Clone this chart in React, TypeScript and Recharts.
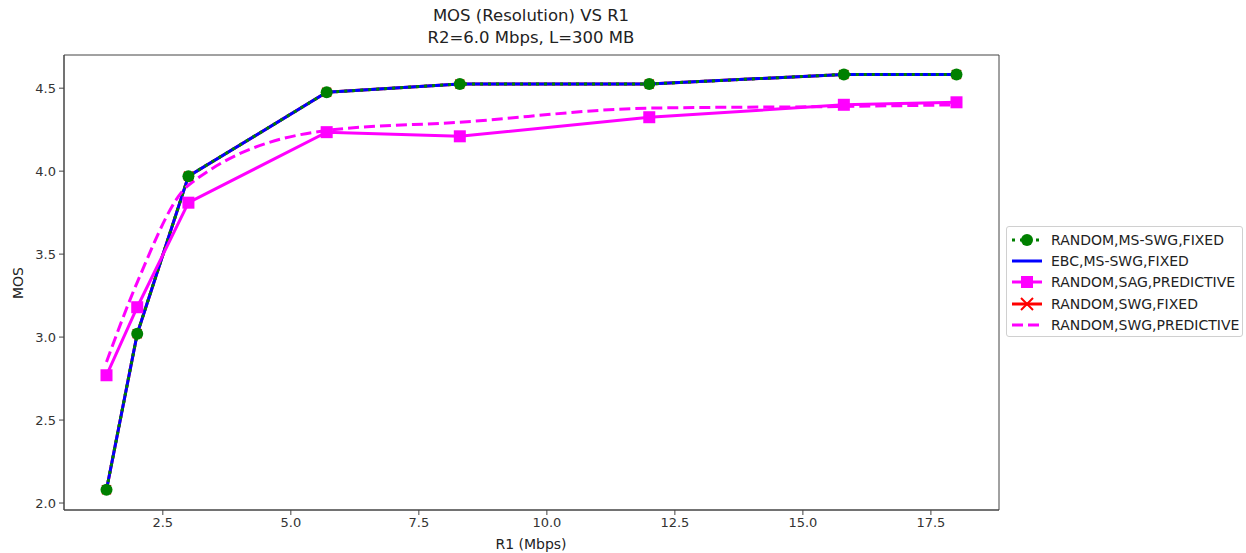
import { LineChart, XAxis, YAxis, Line, ReferenceArea } from 'recharts';

// R1 (Mbps) sample points
const r1 = [1.4, 2.0, 3.0, 5.7, 8.3, 12.0, 15.8, 18.0];

const randomMsSwgFixed = [2.08, 3.02, 3.97, 4.475, 4.525, 4.525, 4.583, 4.583];
const ebcMsSwgFixed = [2.08, 3.02, 3.97, 4.475, 4.525, 4.525, 4.583, 4.583];
const randomSagPredictive = [2.77, 3.18, 3.81, 4.235, 4.21, 4.325, 4.4, 4.415];
const randomSwgFixed = [2.08, 3.02, 3.97, 4.475, 4.525, 4.525, 4.583, 4.583];
const randomSwgPredictive = [2.85, 3.33, 3.915, 4.245, 4.295, 4.38, 4.39, 4.4];

const xTicks = [2.5, 5.0, 7.5, 10.0, 12.5, 15.0, 17.5];
const yTicks = [2.0, 2.5, 3.0, 3.5, 4.0, 4.5];

const X_DOMAIN: [number, number] = [0.57, 18.83];
const Y_DOMAIN: [number, number] = [1.958, 4.7];

const data = r1.map((x, i) => ({
  r1: x,
  msSwg: randomMsSwgFixed[i],
  ebc: ebcMsSwgFixed[i],
  sag: randomSagPredictive[i],
  swgFixed: randomSwgFixed[i],
  swgPred: randomSwgPredictive[i],
}));

const FONT = '"DejaVu Sans", sans-serif';

const SquareDot = (props: any) => {
  const { cx, cy } = props;
  if (cx == null || cy == null) return null;
  return <rect x={cx - 6} y={cy - 6} width={12} height={12} fill="#ff00ff" />;
};

const CrossDot = (props: any) => {
  const { cx, cy } = props;
  if (cx == null || cy == null) return null;
  return (
    <g stroke="#ff0000" strokeWidth={1.5}>
      <line x1={cx - 4.5} y1={cy - 4.5} x2={cx + 4.5} y2={cy + 4.5} />
      <line x1={cx - 4.5} y1={cy + 4.5} x2={cx + 4.5} y2={cy - 4.5} />
    </g>
  );
};

const legendItems = [
  { label: 'RANDOM,MS-SWG,FIXED', color: '#008000', dash: '3 5', marker: 'circle' },
  { label: 'EBC,MS-SWG,FIXED', color: '#0000ff', dash: undefined, marker: 'none' },
  { label: 'RANDOM,SAG,PREDICTIVE', color: '#ff00ff', dash: undefined, marker: 'square' },
  { label: 'RANDOM,SWG,FIXED', color: '#ff0000', dash: undefined, marker: 'cross' },
  { label: 'RANDOM,SWG,PREDICTIVE', color: '#ff00ff', dash: '11 5', marker: 'none' },
];

const LegendBox = () => (
  <div
    style={{
      position: 'absolute',
      left: 1006,
      top: 226,
      width: 237,
      height: 111,
      border: '1px solid #d0d0d0',
      borderRadius: 3,
      background: '#fff',
      boxSizing: 'border-box',
      paddingTop: 2,
    }}
  >
    {legendItems.map((it) => (
      <div key={it.label} style={{ display: 'flex', alignItems: 'center', height: 21.3 }}>
        <svg width={40} height={16} style={{ marginLeft: 1 }}>
          <line x1={4} y1={8} x2={34} y2={8} stroke={it.color} strokeWidth={3} strokeDasharray={it.dash} />
          {it.marker === 'circle' && <circle cx={19} cy={8} r={6} fill={it.color} />}
          {it.marker === 'square' && <rect x={13} y={2} width={12} height={12} fill={it.color} />}
          {it.marker === 'cross' && (
            <g stroke={it.color} strokeWidth={2}>
              <line x1={13} y1={2} x2={25} y2={14} />
              <line x1={13} y1={14} x2={25} y2={2} />
            </g>
          )}
        </svg>
        <span style={{ fontSize: 14, color: '#222', marginLeft: 3, whiteSpace: 'nowrap' }}>{it.label}</span>
      </div>
    ))}
  </div>
);

const App = () => {
  const tickStyle = { fontSize: 13, fill: '#333', fontFamily: FONT };
  return (
    <div style={{ position: 'absolute', left: 0, top: 0, width: 1246, height: 553, background: '#fff', fontFamily: FONT }}>
      <div style={{ position: 'absolute', left: 281, width: 500, top: 5, textAlign: 'center', fontSize: 16.5, lineHeight: '22px', color: '#222' }}>
        MOS (Resolution) VS R1
        <br />
        R2=6.0 Mbps, L=300 MB
      </div>
      <div
        style={{
          position: 'absolute',
          left: 18,
          top: 283,
          transform: 'translate(-50%, -50%) rotate(-90deg)',
          fontSize: 14,
          color: '#222',
        }}
      >
        MOS
      </div>
      <div style={{ position: 'absolute', left: 431, width: 200, top: 536, textAlign: 'center', fontSize: 14, color: '#222' }}>
        R1 (Mbps)
      </div>

      <LineChart width={1010} height={553} data={data} margin={{ top: 55, right: 11, left: 0, bottom: 0 }}>
        <XAxis
          dataKey="r1"
          type="number"
          domain={X_DOMAIN}
          ticks={xTicks}
          tickFormatter={(v: number) => v.toFixed(1)}
          allowDataOverflow
          height={43}
          tickSize={5}
          tickMargin={3}
          tick={tickStyle}
          stroke="#444"
        />
        <YAxis
          type="number"
          domain={Y_DOMAIN}
          ticks={yTicks}
          tickFormatter={(v: number) => v.toFixed(1)}
          allowDataOverflow
          width={64}
          tickSize={5}
          tickMargin={3}
          tick={tickStyle}
          stroke="#444"
        />
        <ReferenceArea
          x1={X_DOMAIN[0]}
          x2={X_DOMAIN[1]}
          y1={Y_DOMAIN[0]}
          y2={Y_DOMAIN[1]}
          fill="none"
          fillOpacity={0}
          stroke="#444"
          strokeWidth={1}
        />
        <Line dataKey="swgFixed" stroke="#ff0000" strokeWidth={3} dot={<CrossDot />} isAnimationActive={false} />
        <Line dataKey="ebc" stroke="#0000ff" strokeWidth={3} dot={false} isAnimationActive={false} />
        <Line
          dataKey="msSwg"
          stroke="#008000"
          strokeWidth={3}
          strokeDasharray="3 5"
          dot={{ r: 6, fill: '#008000', stroke: 'none' }}
          isAnimationActive={false}
        />
        <Line dataKey="sag" stroke="#ff00ff" strokeWidth={3} dot={<SquareDot />} isAnimationActive={false} />
        <Line
          dataKey="swgPred"
          type="monotone"
          stroke="#ff00ff"
          strokeWidth={3}
          strokeDasharray="11 5"
          dot={false}
          isAnimationActive={false}
        />
      </LineChart>
      <LegendBox />
    </div>
  );
};

export default App;
